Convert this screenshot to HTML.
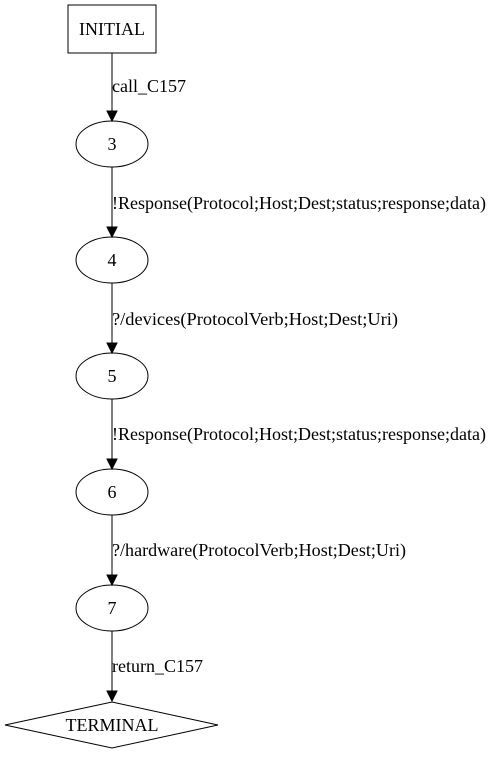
<!DOCTYPE html>
<html><head><style>html,body{margin:0;padding:0;background:#fff}</style></head><body>
<svg width="492" height="755" xmlns="http://www.w3.org/2000/svg" font-family="Liberation Serif, serif" font-size="18">
<rect width="492" height="755" fill="#fff"/>
<g stroke="#000" fill="none" stroke-width="1">
<rect x="68" y="5" width="88" height="48"/>
<ellipse cx="112" cy="144" rx="36" ry="23"/>
<ellipse cx="112" cy="260" rx="36" ry="23"/>
<ellipse cx="112" cy="376" rx="36" ry="23"/>
<ellipse cx="112" cy="492" rx="36" ry="23"/>
<ellipse cx="112" cy="608" rx="36" ry="23"/>
<polygon points="112,702 218,725 112,748 5,725"/>
<line x1="112" y1="53" x2="112" y2="111"/>
<line x1="112" y1="167" x2="112" y2="227"/>
<line x1="112" y1="283" x2="112" y2="343"/>
<line x1="112" y1="399" x2="112" y2="459"/>
<line x1="112" y1="515" x2="112" y2="575"/>
<line x1="112" y1="631" x2="112" y2="691"/>
</g>
<g fill="#000" stroke="#000">
<polygon points="107,111 117,111 112,121"/>
<polygon points="107,227 117,227 112,237"/>
<polygon points="107,343 117,343 112,353"/>
<polygon points="107,459 117,459 112,469"/>
<polygon points="107,575 117,575 112,585"/>
<polygon points="107,691 117,691 112,701"/>
</g>
<g text-anchor="middle">
<text x="112" y="35">INITIAL</text>
<text x="112" y="150">3</text>
<text x="112" y="266">4</text>
<text x="112" y="382">5</text>
<text x="112" y="498">6</text>
<text x="112" y="614">7</text>
<text x="112" y="731">TERMINAL</text>
</g>
<g>
<text x="112" y="92" textLength="74" lengthAdjust="spacingAndGlyphs">call_C157</text>
<text x="112" y="209" textLength="374" lengthAdjust="spacingAndGlyphs">!Response(Protocol;Host;Dest;status;response;data)</text>
<text x="112" y="325" textLength="286" lengthAdjust="spacingAndGlyphs">?/devices(ProtocolVerb;Host;Dest;Uri)</text>
<text x="112" y="440" textLength="374" lengthAdjust="spacingAndGlyphs">!Response(Protocol;Host;Dest;status;response;data)</text>
<text x="112" y="556" textLength="294" lengthAdjust="spacingAndGlyphs">?/hardware(ProtocolVerb;Host;Dest;Uri)</text>
<text x="112" y="672" textLength="91" lengthAdjust="spacingAndGlyphs">return_C157</text>
</g>
</svg>
</body></html>
